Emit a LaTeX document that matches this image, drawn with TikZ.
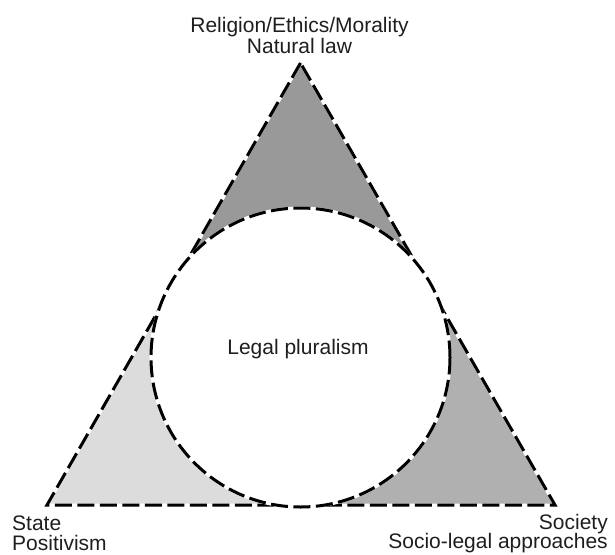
\documentclass[tikz,border=0pt]{standalone}
\usepackage{fontspec}
\setmainfont{Liberation Sans}
\usetikzlibrary{calc}
\definecolor{topgray}{RGB}{153,153,153}
\definecolor{leftgray}{RGB}{220,220,220}
\definecolor{rightgray}{RGB}{176,176,176}
\definecolor{txt}{RGB}{30,30,30}
\begin{document}
\begin{tikzpicture}[x=1pt,y=-1pt,
  dashline/.style={line width=3pt, dash pattern=on 17pt off 5.5pt, black},
  under/.style={line width=3pt, white},
  lbl/.style={font=\fontsize{21}{21}\selectfont, inner sep=0pt, text=txt}]
\useasboundingbox (0,0) rectangle (615,554);
\coordinate (A) at (300.5,63);
\coordinate (B) at (47,505);
\coordinate (C) at (555,505);
\coordinate (O) at (300.5,357.5);
\coordinate (TB) at ($(B)!(O)!(C)$);
\coordinate (TL) at ($(A)!(O)!(B)$);
\coordinate (TR) at ($(A)!(O)!(C)$);
\fill[topgray] (A) -- (TR) -- (O) -- (TL) -- cycle;
\fill[leftgray] (B) -- (TL) -- (O) -- (TB) -- cycle;
\fill[rightgray] (C) -- (TB) -- (O) -- (TR) -- cycle;
\draw[under, line join=miter] (A) -- (B) -- (C) -- cycle;
\draw[dashline, line join=miter] (A) -- (B) -- (C) -- cycle;
\fill[white] (O) circle (149.5pt);
\draw[under] (O) circle (149.5pt);
\draw[dashline] (O) circle (149.5pt);
\node[lbl, anchor=base] (rel) at (299.5,32) {Religion/Ethics/Morality};
\node[lbl, anchor=base] (nat) at (299.5,53) {Natural law};
\node[lbl, anchor=base west] (state) at (12,530) {State};
\node[lbl, anchor=base west] (pos) at (12,550.5) {Positivism};
\node[lbl, anchor=base east] (soc) at (608,529) {Society};
\node[lbl, anchor=base east] (socio) at (608,548.5) {Socio-legal approaches};
\node[lbl, anchor=base] (lp) at (298,354) {Legal pluralism};
\end{tikzpicture}
\end{document}
